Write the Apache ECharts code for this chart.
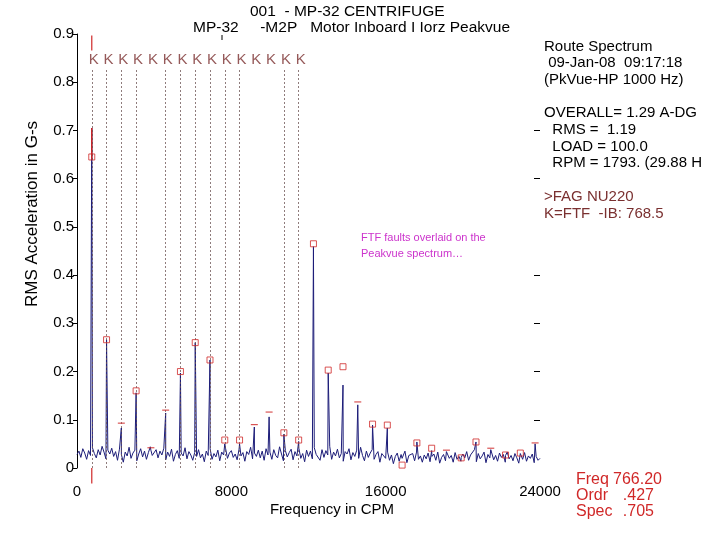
<!DOCTYPE html>
<html>
<head>
<meta charset="utf-8"/>
<script src="https://cdn.jsdelivr.net/npm/echarts@6/dist/echarts.min.js"></script>
</head>
<body style="margin:0;background:#fff">
<div id="container" style="width:720px;height:540px"></div>
<script type="text/javascript">
    // noise floor of the spectrum, one value every 100 CPM from 0 to 24000
    var noiseStep = 100;
    var noiseFloor = [
        0.028,0.035,0.022,0.040,0.031,0.018,0.036,0.026,0.042,0.030,0.021,0.038,0.027,0.045,0.033,0.019,0.037,0.029,0.041,0.024,
        0.034,0.016,0.039,0.028,0.012,0.033,0.025,0.043,0.020,0.031,0.037,0.015,0.029,0.040,0.023,0.035,0.018,0.032,0.044,0.026,
        0.030,0.038,0.021,0.035,0.027,0.041,0.017,0.033,0.024,0.039,0.014,0.028,0.036,0.020,0.031,0.025,0.042,0.019,0.034,0.027,
        0.016,0.032,0.024,0.038,0.021,0.029,0.013,0.035,0.026,0.040,0.018,0.030,0.023,0.037,0.015,0.033,0.027,0.041,0.020,0.031,
        0.036,0.022,0.029,0.017,0.039,0.025,0.032,0.014,0.034,0.028,0.043,0.019,0.031,0.024,0.037,0.021,0.035,0.016,0.040,0.027,
        0.033,0.018,0.038,0.026,0.021,0.044,0.029,0.015,0.036,0.023,0.032,0.039,0.017,0.034,0.025,0.041,0.020,0.030,0.013,0.037,
        0.024,0.035,0.019,0.042,0.028,0.031,0.016,0.038,0.022,0.036,0.027,0.045,0.018,0.033,0.025,0.039,0.021,0.030,0.014,0.034,
        0.029,0.040,0.017,0.032,0.024,0.037,0.020,0.043,0.026,0.015,0.035,0.022,0.031,0.038,0.018,0.028,0.034,0.012,0.030,0.025,
        0.020,0.033,0.016,0.027,0.009,0.024,0.031,0.014,0.028,0.019,0.035,0.011,0.026,0.022,0.030,0.015,0.033,0.018,0.025,0.012,
        0.027,0.019,0.031,0.013,0.024,0.029,0.016,0.033,0.010,0.022,0.028,0.015,0.030,0.020,0.026,0.012,0.032,0.018,0.024,0.014,
        0.029,0.021,0.034,0.016,0.027,0.023,0.038,0.013,0.030,0.019,0.025,0.033,0.011,0.028,0.021,0.035,0.017,0.026,0.014,0.031,
        0.022,0.028,0.012,0.033,0.019,0.026,0.015,0.030,0.021,0.010,0.027,0.018,0.032,0.014,0.025,0.020,0.029,0.011,0.024,0.016,
        0.020
    ];

    // FTF harmonics (CPM), spectrum peak at each, and the fault marker level/kind
    var harmonicFreqs = [766,1532,2298,3064,3830,4596,5362,6128,6894,7660,8426,9192,9958,10724,11490,
        12256,13022,13788,14554,15320,16086,16852,17618,18384,19150,19916,20682,21448,22214,22980,23746];
    var peakAmps = [0.705,0.266,0.083,0.156,0.037,0.114,0.197,0.260,0.224,0.050,0.050,0.085,0.106,0.070,0.055,
        0.459,0.197,0.172,0.131,0.089,0.083,0.020,0.054,0.036,0.034,0.022,0.054,0.038,0.026,0.030,0.050];
    var markerAmps = [0.645,0.266,0.093,0.160,0.042,0.120,0.200,0.260,0.224,0.058,0.058,0.090,0.116,0.073,0.058,
        0.465,0.203,0.210,0.137,0.091,0.089,0.006,0.052,0.041,0.037,0.021,0.054,0.041,0.027,0.031,0.052];
    var markerKinds = ['S','S','D','S','D','D','S','S','S','S','S','D','D','S','S',
        'S','S','S','D','S','S','S','S','S','D','S','S','D','S','S','D'];

    // dashed fault lines and the "K" labels above them (harmonic orders)
    var faultLineOrders = [1,2,3,4,6,7,8,9,10,11,14,15];
    var kLabelOrders = [1,2,3,4,5,6,7,8,9,10,11,12,13,14,15];

    var cursorFreq = 766.2;
    var yTicksRight = [0.1,0.2,0.3,0.4,0.6,0.7];

    // build spectrum: noise floor with the harmonic peaks inserted
    var spectrum = [];
    for (var i = 0; i < noiseFloor.length; i++) {
        spectrum.push([i * noiseStep, noiseFloor[i]]);
    }
    for (var j = 0; j < harmonicFreqs.length; j++) {
        spectrum.push([harmonicFreqs[j], peakAmps[j]]);
    }
    spectrum.sort(function (a, b) { return a[0] - b[0]; });

    var squareMarks = [], dashMarks = [];
    for (var k = 0; k < harmonicFreqs.length; k++) {
        var p = [harmonicFreqs[k], markerAmps[k]];
        if (markerKinds[k] === 'S') squareMarks.push(p); else dashMarks.push(p);
    }

    var faultLines = faultLineOrders.map(function (n) {
        var f = harmonicFreqs[n - 1];
        return [{coord: [f, 0]}, {coord: [f, 0.826]}];
    });
    var kData = kLabelOrders.map(function (n) { return [harmonicFreqs[n - 1], 0.846]; });

    var font = "Liberation Sans";
    var red = "#d02828";
    var brown = "#7a3030";

    var dom = document.getElementById("container");
    var myChart = echarts.init(dom, null, {renderer: "canvas"});

    var option = {
        animation: false,
        textStyle: {fontFamily: font},
        grid: {left: 77, right: 180, top: 34, bottom: 72},
        xAxis: {
            type: "value",
            min: 0, max: 24000, interval: 8000,
            splitLine: {show: false},
            axisLine: {show: false},
            axisTick: {show: false},
            axisLabel: {
                color: "#000", fontSize: 15, margin: 16,
                formatter: function (v) { return String(v); }
            }
        },
        yAxis: [{
            type: "value",
            min: 0, max: 0.9, interval: 0.1,
            splitLine: {show: false},
            axisLine: {show: true, lineStyle: {color: "#000", width: 1}},
            axisTick: {show: true, length: 4, lineStyle: {color: "#000"}},
            axisLabel: {color: "#000", fontSize: 15, margin: 3, padding: [0, 0, 8, 0]}
        }, {
            type: "value",
            position: "right",
            min: 0, max: 0.9, interval: 0.1,
            splitLine: {show: false},
            axisLine: {show: false},
            axisTick: {show: true, inside: true, length: 6, customValues: yTicksRight, lineStyle: {color: "#000"}},
            axisLabel: {show: false}
        }],
        series: [
            {
                type: "line",
                data: spectrum,
                showSymbol: false,
                lineStyle: {color: "#1c1c78", width: 1},
                z: 3,
                markLine: {
                    silent: true,
                    symbol: "none",
                    label: {show: false},
                    lineStyle: {color: "#6a5050", type: [2, 2], width: 1, opacity: 0.75},
                    data: faultLines
                }
            },
            {
                // cursor part of the peak
                type: "line",
                data: [[cursorFreq, 0.64], [cursorFreq, 0.705]],
                showSymbol: false,
                lineStyle: {color: red, width: 1.5},
                z: 4
            },
            {
                // cursor above the K labels
                type: "line",
                data: [[cursorFreq, 0.897], [cursorFreq, 0.866]],
                showSymbol: false,
                lineStyle: {color: red, width: 1.2},
                z: 4
            },
            {
                // cursor below the axis
                type: "line",
                clip: false,
                data: [[cursorFreq, 0], [cursorFreq, -0.032]],
                showSymbol: false,
                lineStyle: {color: red, width: 1.2},
                z: 4
            },
            {
                type: "scatter",
                data: squareMarks,
                symbol: "rect",
                symbolSize: 6,
                itemStyle: {color: "rgba(0,0,0,0)", borderColor: red, borderWidth: 1},
                z: 5
            },
            {
                type: "scatter",
                data: dashMarks,
                symbol: "rect",
                symbolSize: [7, 1.2],
                itemStyle: {color: red},
                z: 5
            },
            {
                type: "scatter",
                data: kData,
                symbolSize: 0,
                label: {show: true, position: "inside", formatter: "K", color: brown, fontSize: 15, offset: [2, 0]},
                z: 5
            }
        ],
        graphic: [
            {type: "text", x: 250, y: 12, style: {text: "001  - MP-32 CENTRIFUGE", font: "15.5px " + font, fill: "#000", textVerticalAlign: "middle"}},
            {type: "text", x: 193, y: 28, style: {text: "MP-32     -M2P   Motor Inboard I Iorz Peakvue", font: "15.5px " + font, fill: "#000", textVerticalAlign: "middle"}},
            {type: "line", shape: {x1: 222, y1: 35, x2: 222, y2: 40}, style: {stroke: "#000", lineWidth: 1}},
            {type: "text", x: 32, y: 214, rotation: Math.PI / 2, style: {text: "RMS Acceleration in G-s", font: "17px " + font, fill: "#000", textAlign: "center", textVerticalAlign: "middle"}},
            {type: "text", x: 332, y: 510, style: {text: "Frequency in CPM", font: "15px " + font, fill: "#000", textAlign: "center", textVerticalAlign: "middle"}},

            {type: "text", x: 544, y: 47, style: {text: "Route Spectrum", font: "15px " + font, fill: "#000", textVerticalAlign: "middle"}},
            {type: "text", x: 544, y: 63, style: {text: " 09-Jan-08  09:17:18", font: "15px " + font, fill: "#000", textVerticalAlign: "middle"}},
            {type: "text", x: 544, y: 80, style: {text: "(PkVue-HP 1000 Hz)", font: "15px " + font, fill: "#000", textVerticalAlign: "middle"}},
            {type: "text", x: 544, y: 113, style: {text: "OVERALL= 1.29 A-DG", font: "15px " + font, fill: "#000", textVerticalAlign: "middle"}},
            {type: "text", x: 544, y: 130, style: {text: "  RMS =  1.19", font: "15px " + font, fill: "#000", textVerticalAlign: "middle"}},
            {type: "text", x: 544, y: 147, style: {text: "  LOAD = 100.0", font: "15px " + font, fill: "#000", textVerticalAlign: "middle"}},
            {type: "text", x: 544, y: 163, style: {text: "  RPM = 1793. (29.88 H", font: "15px " + font, fill: "#000", textVerticalAlign: "middle"}},
            {type: "text", x: 544, y: 197, style: {text: ">FAG NU220", font: "15px " + font, fill: brown, textVerticalAlign: "middle"}},
            {type: "text", x: 544, y: 214, style: {text: "K=FTF  -IB: 768.5", font: "15px " + font, fill: brown, textVerticalAlign: "middle"}},

            {type: "text", x: 361, y: 238, style: {text: "FTF faults overlaid on the", font: "11px " + font, fill: "#cc33cc", textVerticalAlign: "middle"}},
            {type: "text", x: 361, y: 254, style: {text: "Peakvue spectrum\u2026", font: "11px " + font, fill: "#cc33cc", textVerticalAlign: "middle"}},

            {type: "text", x: 576, y: 480, style: {text: "Freq", font: "16px " + font, fill: red, textVerticalAlign: "middle"}},
            {type: "text", x: 662, y: 480, style: {text: "766.20", font: "16px " + font, fill: red, textAlign: "right", textVerticalAlign: "middle"}},
            {type: "text", x: 576, y: 496, style: {text: "Ordr", font: "16px " + font, fill: red, textVerticalAlign: "middle"}},
            {type: "text", x: 654, y: 496, style: {text: ".427", font: "16px " + font, fill: red, textAlign: "right", textVerticalAlign: "middle"}},
            {type: "text", x: 576, y: 512, style: {text: "Spec", font: "16px " + font, fill: red, textVerticalAlign: "middle"}},
            {type: "text", x: 654, y: 512, style: {text: ".705", font: "16px " + font, fill: red, textAlign: "right", textVerticalAlign: "middle"}}
        ]
    };

    myChart.setOption(option);
</script>
</body>
</html>
